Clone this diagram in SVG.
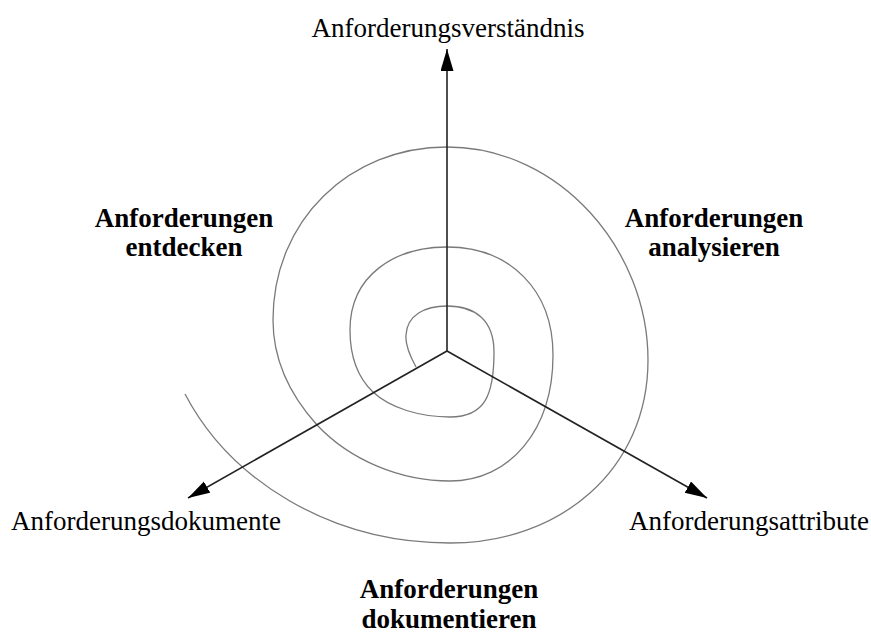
<svg xmlns="http://www.w3.org/2000/svg" width="871" height="639" viewBox="0 0 871 639">
  <style>
    .axis { stroke: #222; stroke-width: 1.6; fill: none; }
    .spiral { stroke: #7a7a7a; stroke-width: 1.3; fill: none; }
    .label { font-family: "Liberation Serif", "Times New Roman", serif; font-size: 27px; fill: #000; }
    .phase { font-family: "Liberation Serif", "Times New Roman", serif; font-size: 27px; font-weight: bold; fill: #000; text-anchor: middle; }
  </style>
  <defs>
    <marker id="arrow" markerUnits="userSpaceOnUse" markerWidth="24" markerHeight="14" refX="22" refY="6.5" orient="auto">
      <path d="M0,0 L22,6.5 L0,13 z" fill="#000"/>
    </marker>
  </defs>

  <rect width="871" height="639" fill="#fff"/>

  <!-- spiral winding outward from the centre -->
  <g id="spiral">
    <path class="spiral" d="M416,367
      C411,358 405,345 406,335
      C407,315 425,306 447,306
      C475,306 494,320 494,352
      C494,395 485,417 450,417
      C420,417 390,408 373,392
      C355,375 350,350 350,330
      C350,275 395,247 447,247
      C510,247 553,290 553,355
      C553,430 510,481 450,481
      C400,481 350,460 317,425
      C290,395 273,360 273,320
      C273,220 350,147 447,147
      C560,147 648,250 648,360
      C648,470 560,543 450,543
      C330,543 230,480 185,394"/>
  </g>

  <!-- three axes from the common origin -->
  <g id="connectors">
    <line class="axis" x1="447" y1="351" x2="447" y2="49" marker-end="url(#arrow)"/>
    <line class="axis" x1="447" y1="351" x2="188" y2="498" marker-end="url(#arrow)"/>
    <line class="axis" x1="447" y1="351" x2="707" y2="498" marker-end="url(#arrow)"/>
  </g>

  <g id="axis-verstaendnis">
    <text class="label" x="448" y="37" text-anchor="middle">Anforderungsverständnis</text>
  </g>
  <g id="axis-dokumente">
    <text class="label" x="146" y="530" text-anchor="middle">Anforderungsdokumente</text>
  </g>
  <g id="axis-attribute">
    <text class="label" x="749" y="530" text-anchor="middle">Anforderungsattribute</text>
  </g>

  <g id="phase-entdecken">
    <text class="phase" x="184" y="227">Anforderungen</text>
    <text class="phase" x="184" y="256">entdecken</text>
  </g>
  <g id="phase-analysieren">
    <text class="phase" x="714" y="227">Anforderungen</text>
    <text class="phase" x="714" y="256">analysieren</text>
  </g>
  <g id="phase-dokumentieren">
    <text class="phase" x="449" y="598">Anforderungen</text>
    <text class="phase" x="449" y="628">dokumentieren</text>
  </g>
</svg>
